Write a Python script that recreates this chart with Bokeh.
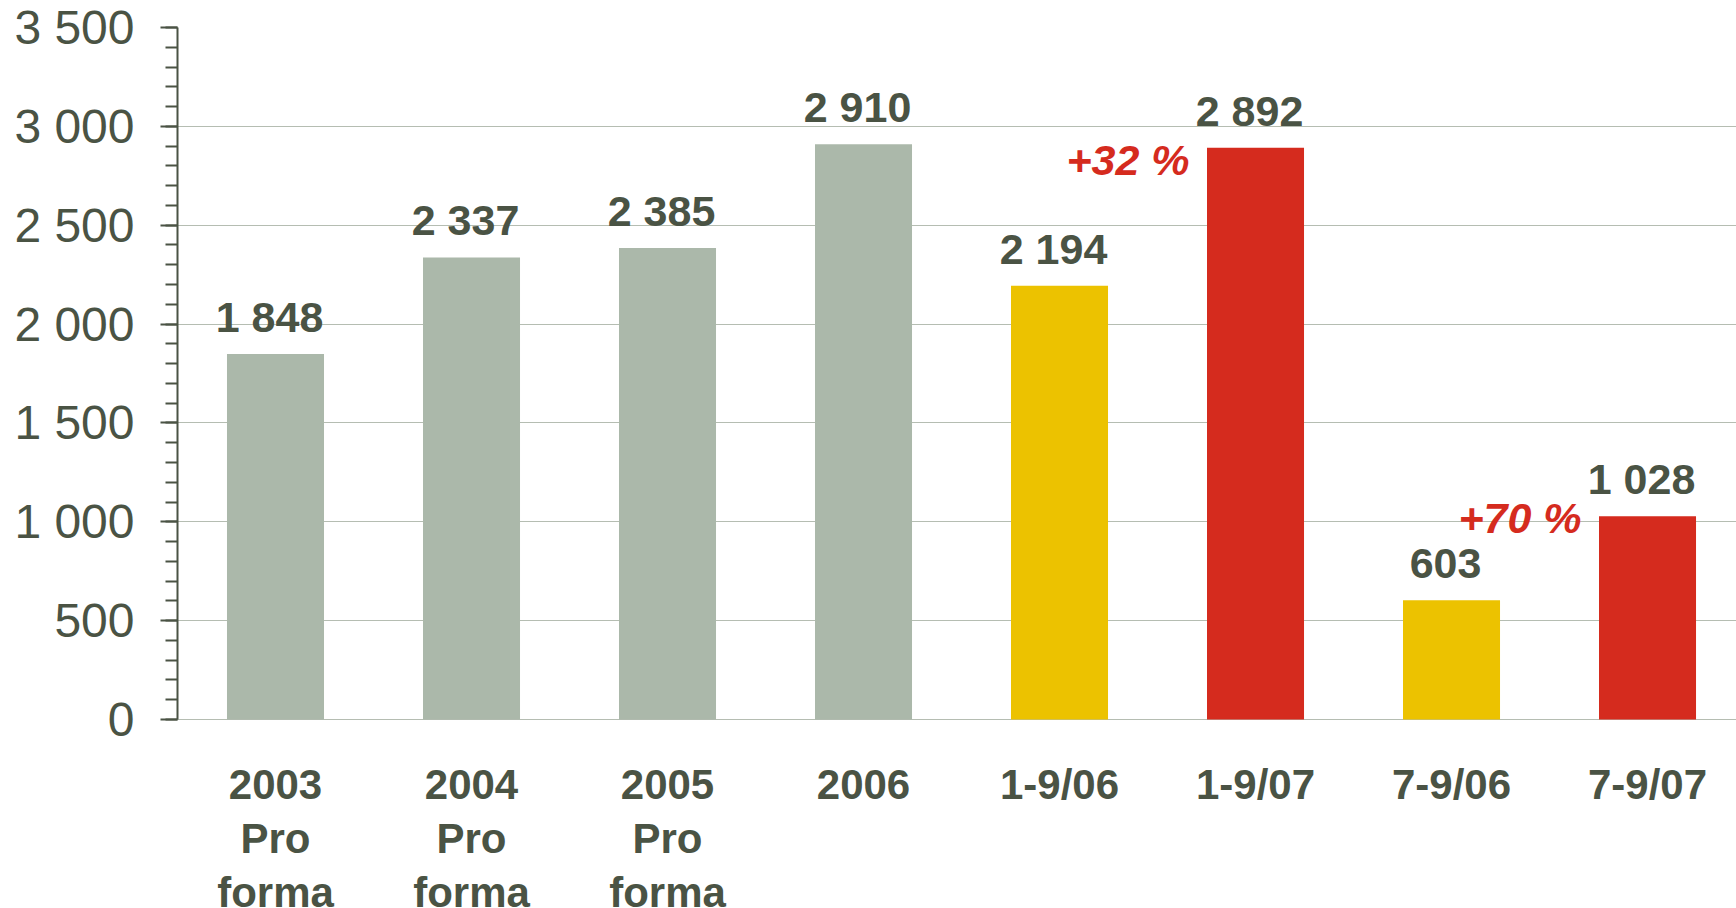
import numpy as np
from bokeh.plotting import figure
from bokeh.models import Range1d, FixedTicker
from bokeh.core.properties import value
from bokeh.embed import file_html
from bokeh.resources import INLINE

# ---- data ----
categories = ["2003\nPro\nforma", "2004\nPro\nforma", "2005\nPro\nforma", "2006",
              "1-9/06", "1-9/07", "7-9/06", "7-9/07"]
values = [1848, 2337, 2385, 2910, 2194, 2892, 603, 1028]
y_ticks = [0, 500, 1000, 1500, 2000, 2500, 3000, 3500]
y_minor_ticks = list(range(0, 3501, 100))
change_labels = ["+32 %", "+70 %"]
change_targets = ["1-9/07", "7-9/07"]

# ---- styles ----
GREY = "#abb8aa"
YELLOW = "#ecc200"
RED = "#d52b1e"
TEXT = "#4a5344"
bar_colors = [GREY, GREY, GREY, GREY, YELLOW, RED, YELLOW, RED]
change_y_offsets = [12, 2]
FONT = value("Liberation Sans")


def fmt(v):
    return f"{v:,}".replace(",", " ")


n = len(categories)
xpos = np.arange(n) + 0.5
first_lines = [c.split("\n")[0] for c in categories]

p = figure(width=1736, height=908,
           x_range=Range1d(0, 7.954), y_range=Range1d(-956, 3500),
           output_backend="svg", toolbar_location=None)
p.min_border = 0
p.min_border_left = 177
p.min_border_top = 27
p.min_border_right = 0
p.min_border_bottom = 0
p.outline_line_color = None
p.background_fill_color = "white"
p.border_fill_color = "white"

p.vbar(x=xpos, top=values, width=0.495, bottom=0, color=bar_colors, line_color=None)

# y axis
p.xaxis.visible = False
p.xgrid.visible = False
ax = p.yaxis[0]
ax.ticker = FixedTicker(ticks=y_ticks, minor_ticks=y_minor_ticks)
ax.bounds = (0, 3500)
ax.major_label_overrides = {t: fmt(t) for t in y_ticks}
ax.major_label_text_font = "Liberation Sans"
ax.major_label_text_font_size = "48px"
ax.major_label_text_color = TEXT
ax.major_label_standoff = 26
ax.axis_line_color = TEXT
ax.axis_line_width = 2
ax.major_tick_line_color = TEXT
ax.major_tick_line_width = 2
ax.major_tick_out = 17
ax.major_tick_in = 0
ax.minor_tick_line_color = TEXT
ax.minor_tick_line_width = 2
ax.minor_tick_out = 12
ax.minor_tick_in = 0
p.ygrid.grid_line_color = "#b5bdb2"
p.ygrid.grid_line_width = 1.2

# value labels
p.text(x=xpos, y=values, text=[fmt(v) for v in values],
       text_align="center", text_baseline="alphabetic",
       x_offset=-6, y_offset=-37,
       text_font=FONT, text_font_style="bold", text_font_size="43px",
       text_color=TEXT)

# category labels (below baseline)
for k in range(3):
    lines = [c.split("\n")[k] if len(c.split("\n")) > k else "" for c in categories]
    p.text(x=xpos, y=[0] * n, text=lines,
           text_align="center", text_baseline="alphabetic",
           y_offset=65 + 54 * k,
           text_font=FONT, text_font_style="bold", text_font_size="42px",
           text_color=TEXT)

# change annotations
for lab, tgt, off in zip(change_labels, change_targets, change_y_offsets):
    i = first_lines.index(tgt)
    p.text(x=[xpos[i]], y=[values[i]], text=[lab],
           text_align="right", text_baseline="alphabetic",
           x_offset=-66, y_offset=off,
           text_font=FONT, text_font_style="bold italic", text_font_size="43px",
           text_color=RED)

open("out.html", "w").write(file_html(p, INLINE))
